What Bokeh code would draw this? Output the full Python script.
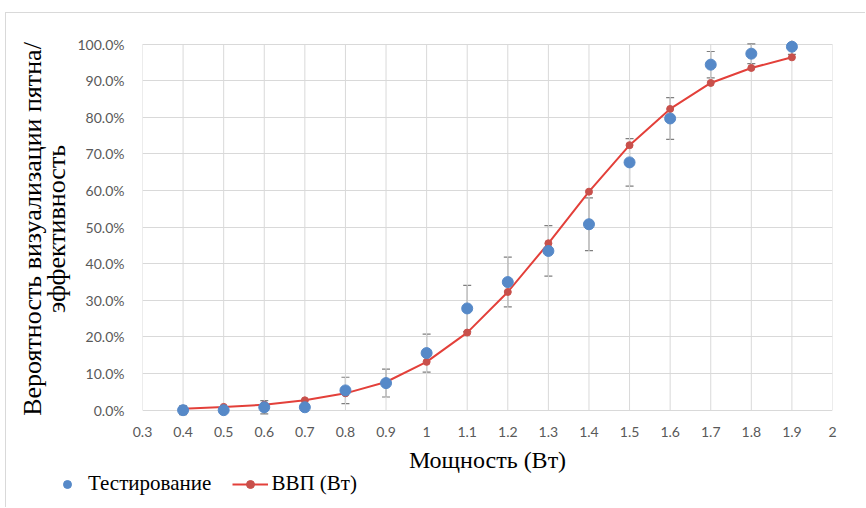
from bokeh.plotting import figure
from bokeh.layouts import column
from bokeh.models import (ColumnDataSource, Whisker, TeeHead, FixedTicker,
                          PrintfTickFormatter, Legend, LegendItem, Range1d)
from bokeh.embed import file_html
from bokeh.resources import INLINE

# Power levels (W)
power = [0.4, 0.5, 0.6, 0.7, 0.8, 0.9, 1.0, 1.1, 1.2, 1.3, 1.4, 1.5, 1.6, 1.7, 1.8, 1.9]
# Measured spot-visualisation probability, % (with symmetric error)
test_pct = [0.0, 0.0, 0.8, 0.8, 5.4, 7.4, 15.6, 27.8, 35.0, 43.5, 50.8, 67.7, 79.7, 94.4, 97.4, 99.3]
test_err = [1.2, 0.5, 1.8, 0.5, 3.6, 3.8, 5.2, 6.3, 6.8, 6.9, 7.2, 6.5, 5.7, 3.6, 2.7, 2.1]
# Model efficiency curve, %
model_pct = [0.4, 0.9, 1.5, 2.7, 4.6, 7.7, 13.2, 21.2, 32.3, 45.6, 59.7, 72.4, 82.3, 89.4, 93.5, 96.4]

x_ticks = [0.3, 0.4, 0.5, 0.6, 0.7, 0.8, 0.9, 1.0, 1.1, 1.2, 1.3, 1.4, 1.5, 1.6, 1.7, 1.8, 1.9, 2.0]
x_tick_labels = ["0.3", "0.4", "0.5", "0.6", "0.7", "0.8", "0.9", "1", "1.1", "1.2",
                 "1.3", "1.4", "1.5", "1.6", "1.7", "1.8", "1.9", "2"]
y_ticks = [0, 10, 20, 30, 40, 50, 60, 70, 80, 90, 100]

BLUE = "#5689c8"
RED_LINE = "#e3403a"
RED_DOT = "#c8504b"
GRID = "#d9d9d9"
TICK_TXT = "#595959"
ERR = "#7f7f7f"

src = ColumnDataSource(dict(
    x=power, y=test_pct,
    lo=[v - e for v, e in zip(test_pct, test_err)],
    hi=[v + e for v, e in zip(test_pct, test_err)],
    m=model_pct,
))

# a little headroom around 0..100 so the markers at the edges are not cut
p = figure(frame_width=690, frame_height=377, output_backend="svg",
           toolbar_location=None,
           x_range=Range1d(0.3, 2.0), y_range=Range1d(-2, 101),
           min_border_left=136, min_border_right=33, min_border_top=27,
           min_border_bottom=60)
p.frame_align = False
p.outline_line_color = None
p.background_fill_color = "white"
p.border_fill_color = "white"

# horizontal grid from the axis; vertical grid only between 0 % and 100 %
p.ygrid.grid_line_color = GRID
p.xgrid.grid_line_color = None
n = len(x_ticks)
p.segment(x0=x_ticks, y0=[y_ticks[0]] * n, x1=x_ticks, y1=[y_ticks[-1]] * n,
          line_color=GRID, line_width=1)

# x axis
p.xaxis.ticker = FixedTicker(ticks=x_ticks)
p.xaxis.major_label_overrides = {t: lab for t, lab in zip(x_ticks, x_tick_labels)}
p.xaxis.axis_line_color = None
p.xaxis.major_tick_line_color = None
p.xaxis.minor_tick_line_color = None
p.xaxis.major_label_text_font = "Lato"
p.xaxis.major_label_text_font_size = "14px"
p.xaxis.major_label_text_color = TICK_TXT
p.xaxis.major_label_standoff = 3
p.xaxis.axis_label = "Мощность (Вт)"
p.xaxis.axis_label_text_font = "Liberation Serif"
p.xaxis.axis_label_text_font_style = "normal"
p.xaxis.axis_label_text_font_size = "24px"
p.xaxis.axis_label_text_color = "black"
p.xaxis.axis_label_standoff = 7

# y axis
p.yaxis.ticker = FixedTicker(ticks=y_ticks)
p.yaxis.formatter = PrintfTickFormatter(format="%.1f%%")
p.yaxis.axis_line_color = None
p.yaxis.major_tick_line_color = None
p.yaxis.minor_tick_line_color = None
p.yaxis.major_label_text_font = "Lato"
p.yaxis.major_label_text_font_size = "14px"
p.yaxis.major_label_text_color = TICK_TXT
p.yaxis.major_label_standoff = 12
p.yaxis.axis_label = "Вероятность визуализации пятна/\nэффективность"
p.yaxis.axis_label_text_font = "Liberation Serif"
p.yaxis.axis_label_text_font_style = "normal"
p.yaxis.axis_label_text_font_size = "26px"
p.yaxis.axis_label_text_line_height = 0.83
p.yaxis.axis_label_text_color = "black"
p.yaxis.axis_label_standoff = 3

# error bars on the measured points
p.add_layout(Whisker(source=src, base="x", lower="lo", upper="hi",
                     line_color=ERR, line_width=1.2,
                     upper_head=TeeHead(size=8, line_color=ERR, line_width=1.2),
                     lower_head=TeeHead(size=8, line_color=ERR, line_width=1.2)))

# model curve
p.line("x", "m", source=src, line_color=RED_LINE, line_width=2)
p.scatter("x", "m", source=src, size=7, fill_color=RED_DOT, line_color=RED_DOT)

# measured points
p.scatter("x", "y", source=src, size=11, fill_color=BLUE, line_color=BLUE)

# legend strip under the chart; its renderers sit outside its (empty) view
leg = figure(width=859, height=38, output_backend="svg", toolbar_location=None,
             x_axis_type=None, y_axis_type=None,
             x_range=Range1d(10, 11), y_range=Range1d(1000, 1001),
             min_border=0, min_border_left=0, min_border_right=0,
             min_border_top=0, min_border_bottom=0)
leg.frame_align = False
leg.outline_line_color = None
leg.background_fill_alpha = 0
leg.border_fill_alpha = 0
leg.xgrid.visible = False
leg.ygrid.visible = False
lt = leg.scatter("x", "y", source=src, size=11, fill_color=BLUE, line_color=BLUE)
ll = leg.line("x", "m", source=src, line_color=RED_LINE, line_width=2)
lm = leg.scatter("x", "m", source=src, size=7, fill_color=RED_DOT, line_color=RED_DOT)

legend = Legend(items=[LegendItem(label="Тестирование", renderers=[lt]),
                       LegendItem(label="ВВП (Вт)", renderers=[ll, lm])],
                orientation="horizontal", location=(43, 11),
                glyph_width=36, glyph_height=20, label_standoff=3, spacing=21,
                padding=0, margin=0, border_line_alpha=0, background_fill_alpha=0,
                label_text_font="Liberation Serif", label_text_font_size="21px",
                label_text_color="black")
leg.add_layout(legend, "center")
leg.styles = {"margin-top": "-8px"}

page = column(p, leg, spacing=0)
page.styles = {"margin-left": "5px", "margin-top": "12px",
               "border-left": f"1px solid {GRID}", "border-top": f"1px solid {GRID}"}

open("out.html", "w").write(file_html(page, INLINE))
